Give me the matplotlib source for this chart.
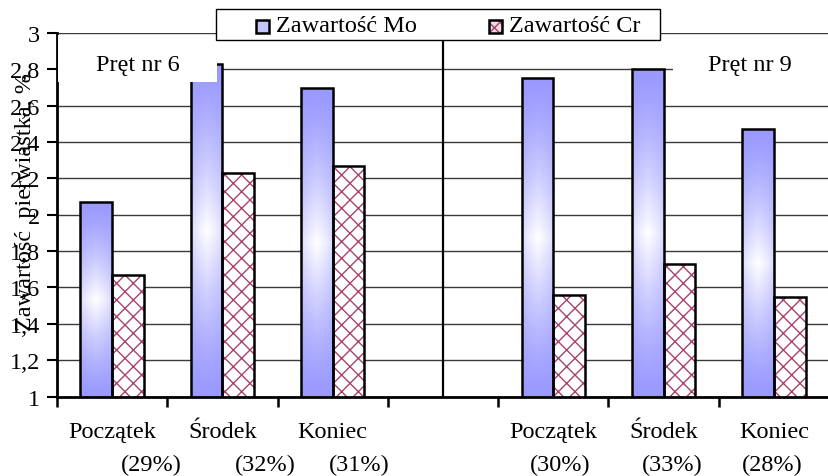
import numpy as np
import matplotlib
matplotlib.use("Agg")
import matplotlib.pyplot as plt
from matplotlib.patches import Rectangle
from matplotlib.transforms import blended_transform_factory, offset_copy

# ---- data -------------------------------------------------------------
categories = ["Początek", "Środek", "Koniec", "", "Początek", "Środek", "Koniec"]
shares = ["(29%)", "(32%)", "(31%)", "", "(30%)", "(33%)", "(28%)"]
mo_content = [2.07, 2.83, 2.70, np.nan, 2.75, 2.80, 2.47]
cr_content = [1.67, 2.23, 2.27, np.nan, 1.56, 1.73, 1.55]
series_names = ["Zawartość Mo", "Zawartość Cr"]
group_names = ["Pręt nr 6", "Pręt nr 9"]
y_ticks = [1.0, 1.2, 1.4, 1.6, 1.8, 2.0, 2.2, 2.4, 2.6, 2.8, 3.0]
y_label = "Zawartość  pierwiastka, %"

# ---- layout / style ---------------------------------------------------
W, H = 829, 477
FS = 17.5
MO_BLUE = np.array([153, 153, 255]) / 255.0
CR_PINK = "#A8426E"
share_dx = [39, 43, 27, 0, 7, 9, -2]   # horizontal shift of second label line (px)
bar_w = 0.288

plt.rcParams["font.family"] = ["Liberation Serif", "DejaVu Serif"]
plt.rcParams["hatch.linewidth"] = 1.0

fig = plt.figure(figsize=(W / 100, H / 100), dpi=100)
ax = fig.add_axes([57 / W, 1 - 397.5 / H, (W - 57) / W, (397.5 - 34) / H])

ymin, ymax = y_ticks[0], y_ticks[-1]
x = np.arange(len(categories))


def gradient_image(n=200, m=60):
    """Blue bar fill that fades to white toward the middle of the bar."""
    u = np.linspace(0, 1, n)[:, None]
    s = np.linspace(0, 1, m)[None, :]
    wy = 1 - np.abs(2 * u - 1)
    wx = 1 - np.abs(2 * s - 1)
    white = np.clip(wy ** 1.3 * (0.6 + 0.4 * wx ** 0.6), 0, 1)
    img = MO_BLUE[None, None, :] * (1 - white[..., None]) + white[..., None]
    return img


grad = gradient_image()

# Mo bars: gradient fill + black outline
for xi, v in zip(x, mo_content):
    if np.isnan(v):
        continue
    x0 = xi - bar_w
    ax.imshow(grad, extent=(x0, xi, ymin, v), origin="lower",
              aspect="auto", zorder=2, interpolation="bilinear")
ax.bar(x - bar_w / 2, mo_content, width=bar_w, fill=False,
       edgecolor="black", linewidth=1.8, zorder=3)

# Cr bars: pink cross hatch on white + black outline
ax.bar(x + bar_w / 2, cr_content, width=bar_w, facecolor="white",
       edgecolor=CR_PINK, hatch="xx", linewidth=0, zorder=2)
ax.bar(x + bar_w / 2, cr_content, width=bar_w, fill=False,
       edgecolor="black", linewidth=1.8, zorder=3)

# separator between the two rods
ax.axvline(3, color="black", linewidth=1.6, zorder=4)

# axes
ax.set_xlim(-0.5, -0.5 + (W - 57) / 111.3)
ax.set_ylim(ymin, ymax)
ax.set_yticks(y_ticks)
ax.set_yticklabels([f"{v:g}".replace(".", ",") for v in y_ticks], fontsize=FS)
ax.set_xticks(np.arange(-0.5, len(categories), 1.0))
ax.set_xticklabels([])
ax.tick_params(axis="y", direction="out", length=7, width=1.5, pad=5)
ax.tick_params(axis="x", direction="out", length=7, width=1.8)
ax.yaxis.grid(True, color="#3a3a3a", linewidth=1.0)
ax.set_axisbelow(True)
for side in ("top", "right"):
    ax.spines[side].set_visible(False)
for side in ("left", "bottom"):
    ax.spines[side].set_linewidth(2.0)

# category labels (two lines)
trans = blended_transform_factory(ax.transData, fig.transFigure)
for xi, name, share, dx in zip(x, categories, shares, share_dx):
    ax.text(xi, 1 - 433 / H, name, transform=trans, ha="center",
            va="center", fontsize=FS, clip_on=False)
    ax.text(xi, 1 - 465 / H, share,
            transform=offset_copy(trans, fig=fig, x=dx, y=0, units="dots"),
            ha="center", va="center", fontsize=FS, clip_on=False)

# y label
fig.text(26 / W, 1 - 202 / H, y_label, rotation=90, ha="center",
         va="center", fontsize=FS)

# rod labels on white boxes
boxes = [(58.5, 36, 217, 83), (673, 36, W, 92)]
centers = [(138, 65), (750, 65)]
for (bx0, by0, bx1, by1), (cx, cy), name in zip(boxes, centers, group_names):
    fig.add_artist(Rectangle((bx0 / W, 1 - by1 / H), (bx1 - bx0) / W,
                             (by1 - by0) / H, transform=fig.transFigure,
                             facecolor="white", edgecolor="none", zorder=5))
    fig.text(cx / W, 1 - cy / H, name, ha="center", va="center",
             fontsize=FS, zorder=6)

# legend box
fig.add_artist(Rectangle((216 / W, 1 - 41 / H), (660 - 216) / W, 31 / H,
                         transform=fig.transFigure, facecolor="white",
                         edgecolor="black", linewidth=1.0, zorder=7))
marker_x = [256, 489]
text_x = [276, 509]
for i, (mx, tx, name) in enumerate(zip(marker_x, text_x, series_names)):
    if i == 0:
        fig.add_artist(Rectangle((mx / W, 1 - 34 / H), 13 / W, 13 / H,
                                 transform=fig.transFigure,
                                 facecolor="#C4C4FF", edgecolor="black",
                                 linewidth=1.8, zorder=8))
    else:
        fig.add_artist(Rectangle((mx / W, 1 - 34 / H), 13 / W, 13 / H,
                                 transform=fig.transFigure,
                                 facecolor="#F2D9E4", edgecolor=CR_PINK,
                                 hatch="xxx", linewidth=0, zorder=8))
        fig.add_artist(Rectangle((mx / W, 1 - 34 / H), 13 / W, 13 / H,
                                 transform=fig.transFigure, fill=False,
                                 edgecolor="black", linewidth=1.8, zorder=9))
    fig.text(tx / W, 1 - 26 / H, name, ha="left", va="center",
             fontsize=FS, zorder=9)

fig.savefig("out.png", dpi=100)
